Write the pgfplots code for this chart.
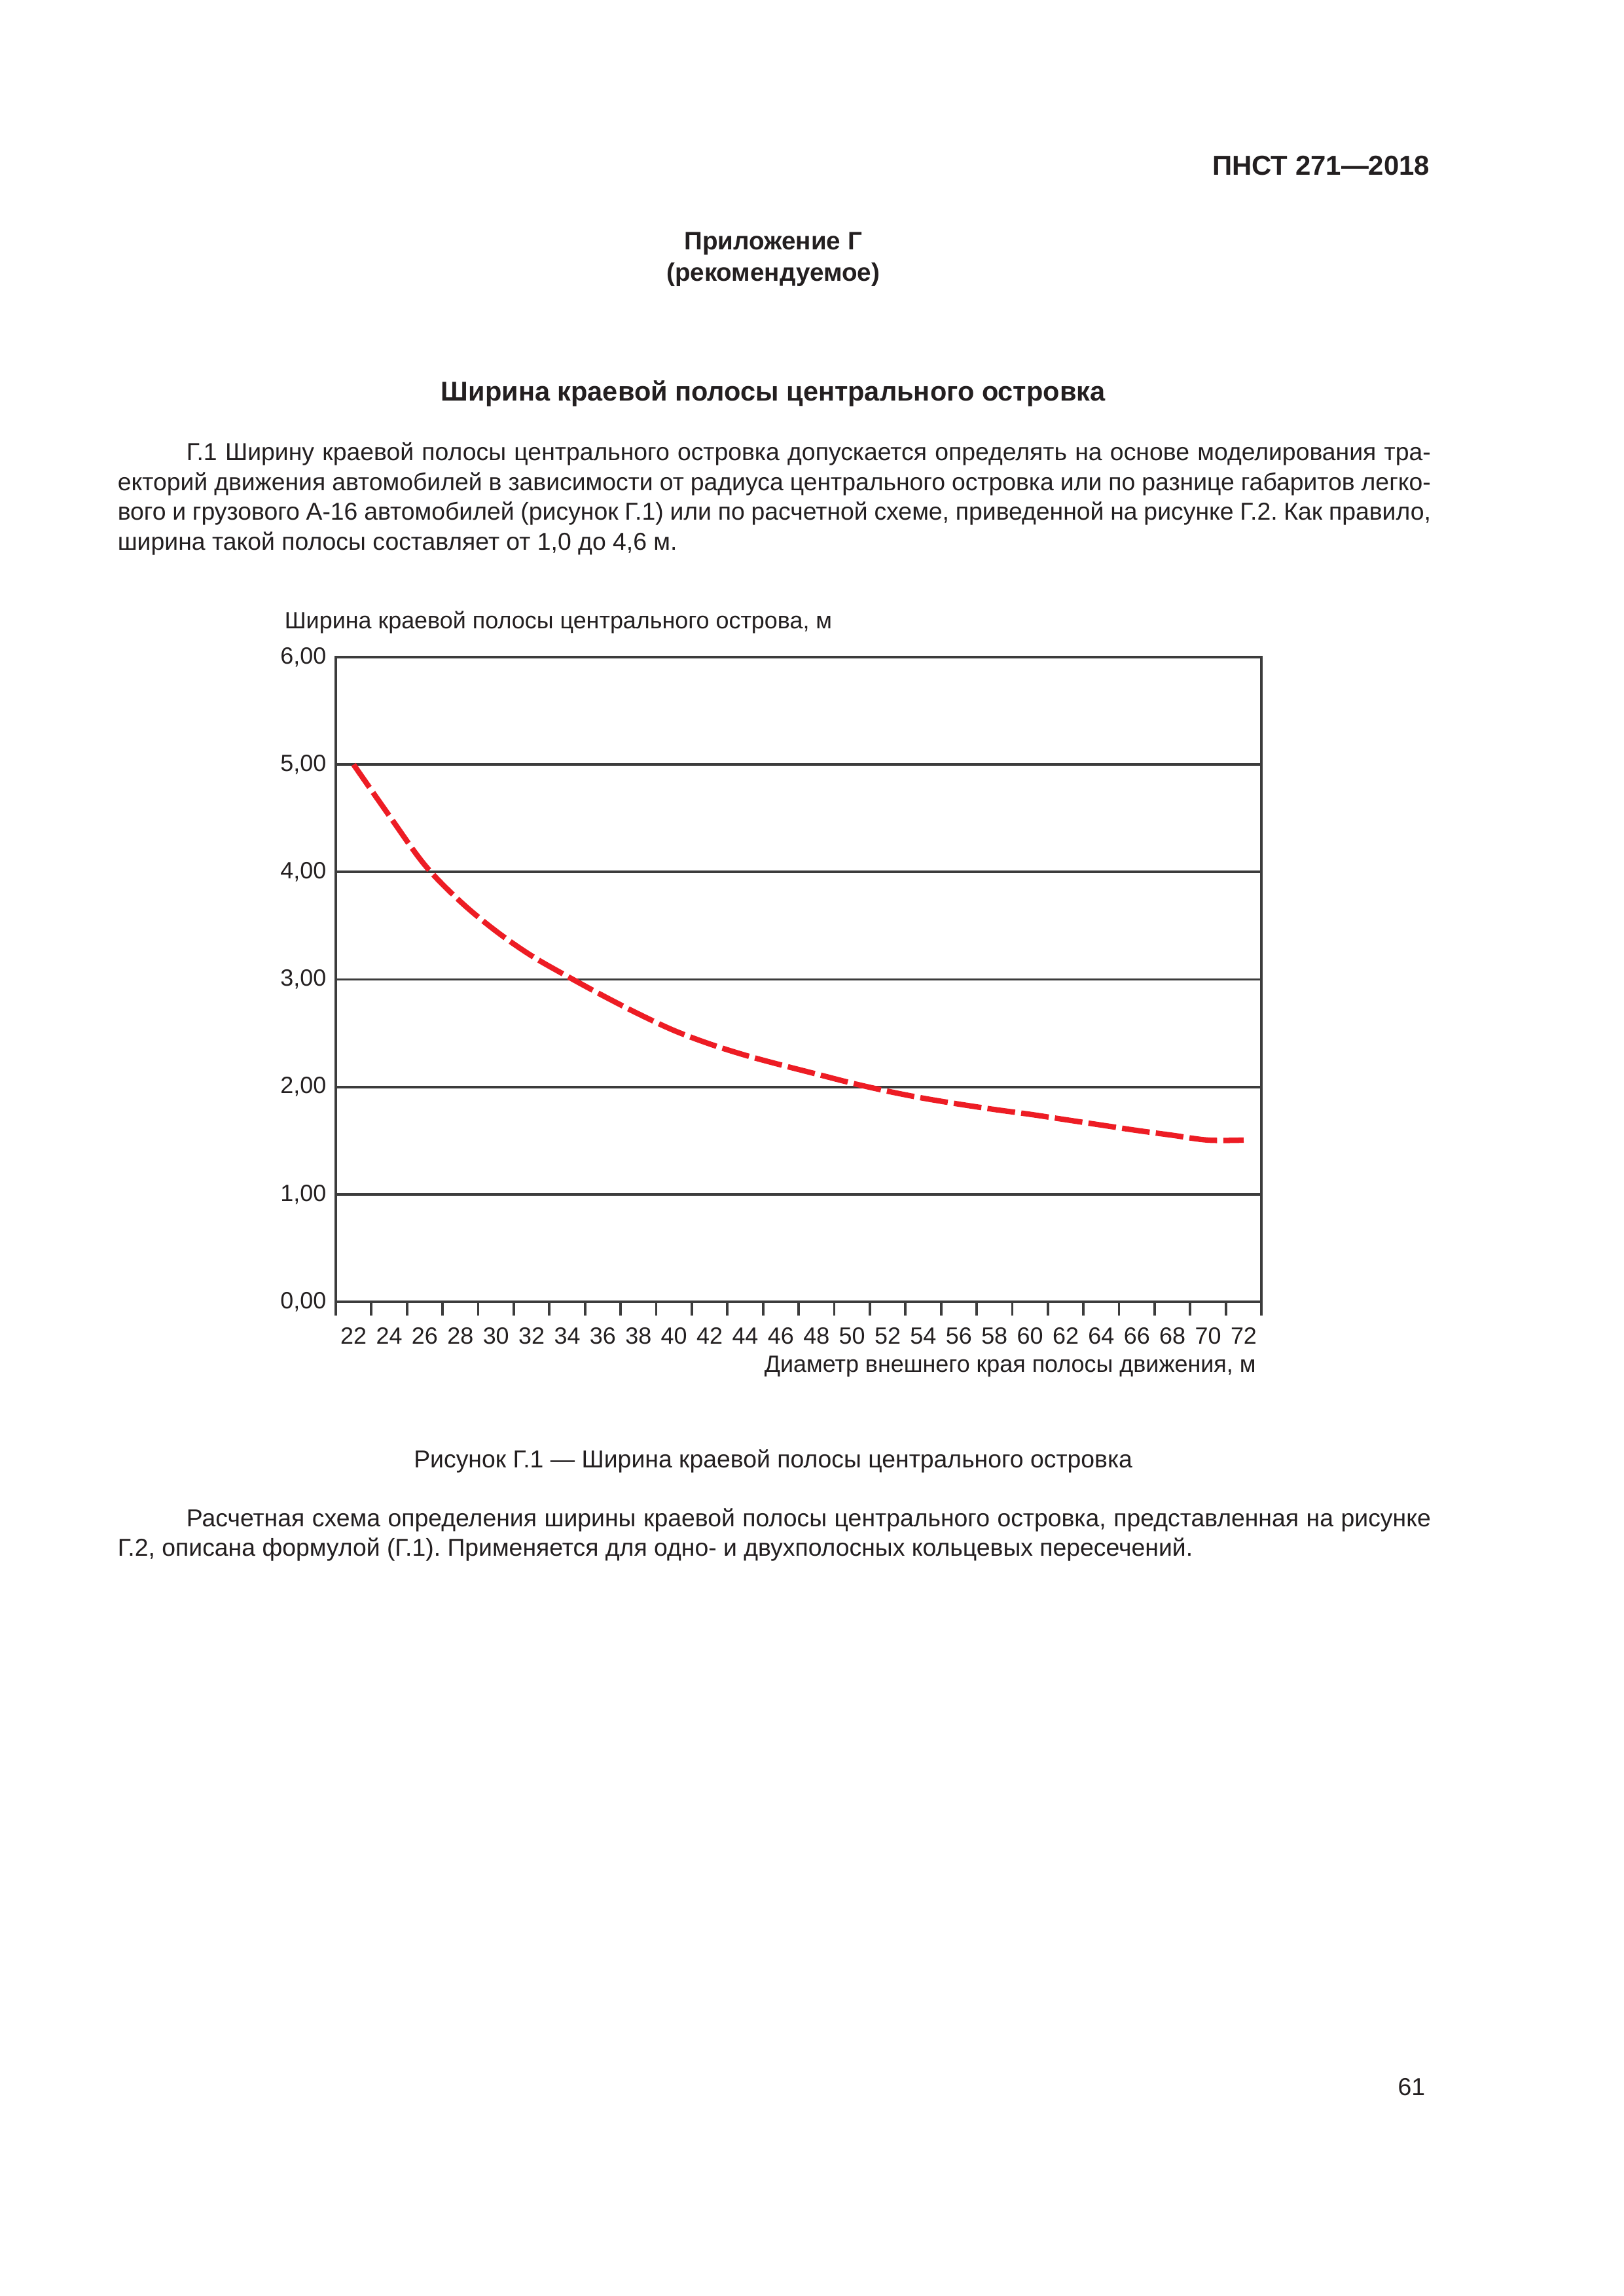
\documentclass[border=0pt]{standalone}
\usepackage{fontspec}
\setmainfont{Liberation Sans}
\usepackage{pgfplots}
\pgfplotsset{compat=1.18}
\definecolor{axisgray}{HTML}{3C3C3C}
\definecolor{curvered}{HTML}{ED1C24}
\definecolor{textblack}{HTML}{231F20}
\newcommand\bodyfont{\fontsize{9.0}{11}\selectfont}
\newcommand\chartfont{\fontsize{8.65}{10}\selectfont}
\frenchspacing
\begin{document}
\frenchspacing
\begin{tikzpicture}[x=1mm,y=1mm]
\fill[white] (0,0) rectangle (210,297);
\useasboundingbox (0,0) rectangle (210,297);
\begin{scope}[every node/.style={inner sep=0pt, text=textblack}]
\node[anchor=mid east] at (185.0,275.3) {\fontsize{10.1}{12}\selectfont\bfseries ПНСТ 271—2018};
\node[anchor=mid] at (100.0,265.6) {\fontsize{9.3}{11}\selectfont\bfseries Приложение Г};
\node[anchor=mid] at (100.0,261.6) {\fontsize{9.3}{11}\selectfont\bfseries (рекомендуемое)};
\node[anchor=mid] at (100.0,246.1) {\fontsize{10.0}{12}\selectfont\bfseries Ширина краевой полосы центрального островка};
\node[anchor=mid west] at (24.05,238.33) {\bodyfont\makebox[160.95mm][s]{Г.1 Ширину краевой полосы центрального островка допускается определять на основе моделирования тра-}};
\node[anchor=mid west] at (15.15,234.48) {\bodyfont\makebox[169.85mm][s]{екторий движения автомобилей в зависимости от радиуса центрального островка или по разнице габаритов легко-}};
\node[anchor=mid west] at (15.15,230.63) {\bodyfont\makebox[169.85mm][s]{вого и грузового А-16 автомобилей (рисунок Г.1) или по расчетной схеме, приведенной на рисунке Г.2. Как правило,}};
\node[anchor=mid west] at (15.15,226.78) {\bodyfont ширина такой полосы составляет от 1,0 до 4,6 м.};
\node[anchor=mid west] at (36.74,216.6) {\chartfont Ширина краевой полосы центрального острова, м};
\node[anchor=mid east] at (162.5,120.4) {\chartfont Диаметр внешнего края полосы движения, м};
\node[anchor=mid] at (100.0,108.05) {\bodyfont Рисунок Г.1 — Ширина краевой полосы центрального островка};
\node[anchor=mid west] at (24.05,100.47) {\bodyfont\makebox[160.95mm][s]{Расчетная схема определения ширины краевой полосы центрального островка, представленная на рисунке}};
\node[anchor=mid west] at (15.15,96.68) {\bodyfont Г.2, описана формулой (Г.1). Применяется для одно- и двухполосных кольцевых пересечений.};
\node[anchor=mid east] at (184.4,26.9) {\bodyfont 61};
\end{scope}
\begin{axis}[
  at={(43.43mm,128.6mm)}, anchor=south west,
  scale only axis, width=119.73mm, height=83.4mm,
  xmin=21, xmax=73, ymin=0, ymax=6,
  xtick={22,24,...,72},
  minor xtick={21,23,...,73},
  ytick={0,1,2,3,4,5,6},
  major tick length=0pt,
  minor tick length=1.75mm,
  tick align=outside,
  xtick pos=lower, ytick pos=left,
  minor tick style={draw=axisgray, line width=0.32mm},
  axis line style={draw=axisgray, line width=0.32mm},
  ymajorgrids,
  major grid style={draw=axisgray, line width=0.32mm},
  /pgf/number format/assume math mode=true,
  ticklabel style={font=\chartfont, text=textblack},
  xticklabel style={yshift=-2.1mm},
  yticklabel style={/pgf/number format/.cd, fixed, fixed zerofill, precision=2, use comma},
  clip=false,
]
\addplot[curvered, line width=0.7mm, dash pattern=on 3.6mm off 0.8mm, smooth, tension=0.55] coordinates {
(22,5.00) (24,4.525) (26,4.065) (28,3.725) (30,3.45) (32,3.22) (34,3.03) (36,2.85)
(38,2.68) (40,2.525) (42,2.40) (44,2.295) (46,2.205) (48,2.12) (50,2.035) (52,1.96)
(54,1.895) (56,1.84) (58,1.79) (60,1.745) (62,1.695) (64,1.645) (66,1.595) (68,1.55)
(70,1.505) (72,1.505)
};
\end{axis}
\end{tikzpicture}
\end{document}
